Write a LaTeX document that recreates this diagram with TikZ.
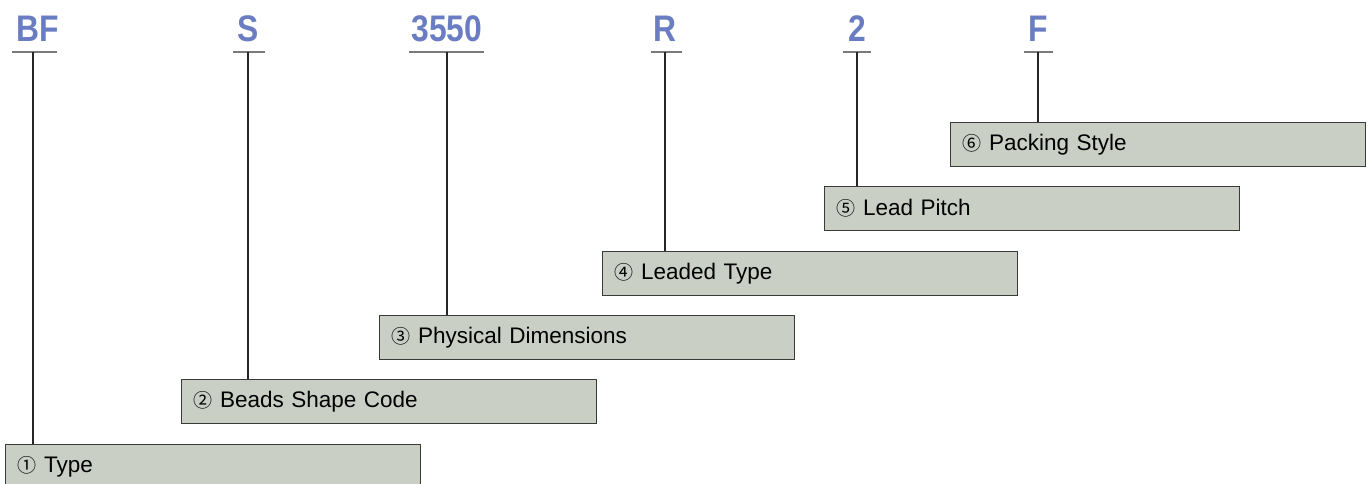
\documentclass[tikz,border=0pt]{standalone}
\usepackage{fontspec}
\setmainfont{Liberation Sans}
\newfontfamily\labfont[FakeStretch=0.86]{Liberation Sans}
\newfontfamily\circfont{Noto Sans CJK SC}
\definecolor{labblue}{HTML}{6A7DC2}
\definecolor{boxfill}{HTML}{C9CFC5}
\definecolor{boxline}{HTML}{3A3A3A}
\definecolor{barcol}{HTML}{7A7A7A}
\tikzset{
  lab/.style={font=\labfont\bfseries\fontsize{37}{40}\selectfont, text=labblue, anchor=base, inner sep=0pt},
  bar/.style={draw=barcol, line width=1.6pt},
  conn/.style={draw=black!85, line width=1.2pt},
  pbox/.style={draw=boxline, line width=1.2pt, fill=boxfill, anchor=north west,
    text width=391pt, inner xsep=12pt, inner ysep=0pt, minimum height=44pt, align=left,
    font=\fontsize{22.5}{26}\selectfont}
}
\newcommand{\circnum}[1]{{\circfont\fontsize{19}{24}\selectfont #1}}
\begin{document}
\begin{tikzpicture}[x=1pt,y=-1pt]
\useasboundingbox (0,0) rectangle (1369,484);
% boxes
\node[pbox] (b1) at (5,444) {\circnum{①} Type};
\node[pbox] (b2) at (181,379) {\circnum{②} Beads Shape Code};
\node[pbox] (b3) at (379,315) {\circnum{③} Physical Dimensions};
\node[pbox] (b4) at (602,251) {\circnum{④} Leaded Type};
\node[pbox] (b5) at (824,186) {\circnum{⑤} Lead Pitch};
\node[pbox] (b6) at (950,122) {\circnum{⑥} Packing Style};
% labels
\node[lab] (l1) at (38,42) {BF};
\node[lab] (l2) at (248,42) {S};
\node[lab] (l3) at (447,42) {3550};
\node[lab] (l4) at (665,42) {R};
\node[lab] (l5) at (857,42) {2};
\node[lab] (l6) at (1038,42) {F};
% bar anchor points
\coordinate (t1) at (33,52);
\coordinate (t2) at (248,52);
\coordinate (t3) at (447,52);
\coordinate (t4) at (665,52);
\coordinate (t5) at (857,52);
\coordinate (t6) at (1038,52);
% bars
\draw[bar] ([xshift=-21pt]t1) -- ([xshift=24pt]t1);
\draw[bar] ([xshift=-15pt]t2) -- ([xshift=17pt]t2);
\draw[bar] ([xshift=-38pt]t3) -- ([xshift=37pt]t3);
\draw[bar] ([xshift=-14pt]t4) -- ([xshift=17pt]t4);
\draw[bar] ([xshift=-14pt]t5) -- ([xshift=14pt]t5);
\draw[bar] ([xshift=-14pt]t6) -- ([xshift=15pt]t6);
% connectors
\draw[conn] (t1) -- (t1 |- b1.north);
\draw[conn] (t2) -- (t2 |- b2.north);
\draw[conn] (t3) -- (t3 |- b3.north);
\draw[conn] (t4) -- (t4 |- b4.north);
\draw[conn] (t5) -- (t5 |- b5.north);
\draw[conn] (t6) -- (t6 |- b6.north);
\end{tikzpicture}
\end{document}
